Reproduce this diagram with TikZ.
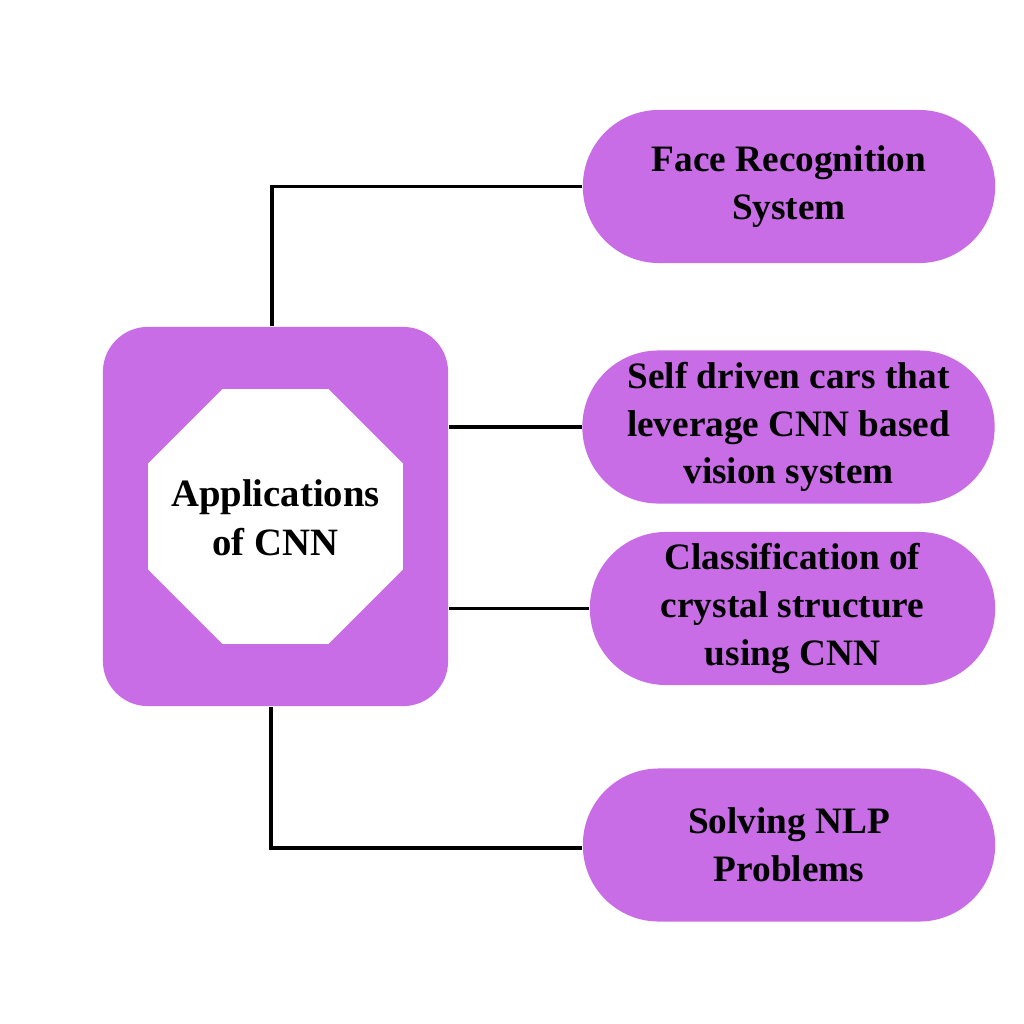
\documentclass[tikz,border=0pt]{standalone}
\usepackage{fontspec}
\setmainfont{Liberation Serif}
\usepackage{tikz}
\usetikzlibrary{shapes.geometric, positioning, calc}
\definecolor{cnnpurple}{HTML}{C96DE6}
\definecolor{linkblack}{HTML}{000000}
\tikzset{
  appbox/.style={rounded corners=0.76cm, minimum width=4.12cm, minimum height=1.53cm,
                 fill=cnnpurple, text=black, align=center, inner sep=2pt,
                 font=\fontsize{10.6pt}{13.6pt}\selectfont\bfseries},
  hubbox/.style={rounded corners=0.45cm, minimum width=3.45cm, minimum height=3.79cm,
                 fill=cnnpurple, inner sep=0pt},
  titlebox/.style={align=center, inner sep=0pt,
                 font=\fontsize{11pt}{14pt}\selectfont\bfseries},
  linkline/.style={line width=1pt, linkblack},
}
\begin{document}
\begin{tikzpicture}[x=0.01cm, y=-0.01cm]
  \useasboundingbox[fill=white] (0,0) rectangle (1024,1024);
  % central hub
  \node[hubbox] (hub) at (275.5, 516.5) {};
  \fill[white] ($(hub.center)+(22.5:138)$)
    \foreach \a in {67.5,112.5,...,337.5} { -- ($(hub.center)+(\a:138)$) } -- cycle;
  \node[titlebox] (title) at ([yshift=-0.015cm]hub.center) {Applications\\ of CNN};
  % applications
  \node[appbox] (face) at (789, 186.5) {Face Recognition\\ System};
  \node[appbox] (selfdrive) at (788.5, 427) {Self driven cars that\\ leverage CNN based\\ vision system};
  \node[appbox, minimum width=4.05cm] (crystal) at (792.5, 608.5) {Classification of\\ crystal structure\\ using CNN};
  \node[appbox] (nlp) at (789, 845) {Solving NLP\\ Problems};
  % connectors
  \draw[linkline] ([xshift=-0.035cm]hub.north) |- (face.west);
  \draw[linkline] (selfdrive.west -| hub.east) -- (selfdrive.west);
  \draw[linkline] (crystal.west -| hub.east) -- (crystal.west);
  \draw[linkline] ([xshift=-0.045cm]hub.south) |- ([yshift=-0.03cm]nlp.west);
\end{tikzpicture}
\end{document}
